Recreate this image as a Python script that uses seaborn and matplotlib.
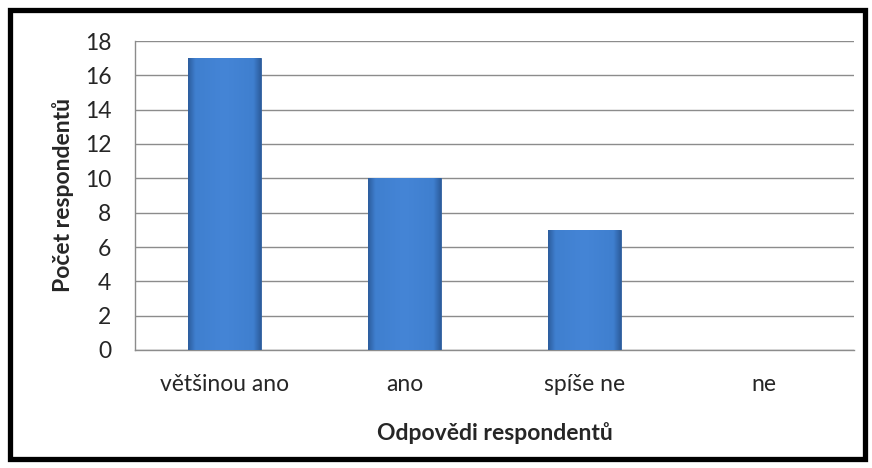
import numpy as np
import pandas as pd
import matplotlib
matplotlib.use("Agg")
import matplotlib.pyplot as plt
import seaborn as sns
from matplotlib.patches import Rectangle
from matplotlib.colors import LinearSegmentedColormap

# data
categories = ["většinou ano", "ano", "spíše ne", "ne"]
counts = [17, 10, 7, 0]
y_ticks = [0, 2, 4, 6, 8, 10, 12, 14, 16, 18]

df = pd.DataFrame({"odpoved": categories, "pocet": counts})

sns.set_style("white")
plt.rcParams["font.family"] = ["Lato", "DejaVu Sans"]

fig = plt.figure(figsize=(8.72, 4.68), dpi=100)
ax = fig.add_axes([135 / 872, 1 - 350 / 468, 719 / 872, 309 / 468])

sns.barplot(data=df, x="odpoved", y="pocet", color="#3F7FCF", width=0.405,
            edgecolor="#2D5E9E", linewidth=0.6, ax=ax, zorder=3)

# gradient fill on each bar (darker edges, flat lighter middle)
cmap = LinearSegmentedColormap.from_list(
    "bar", [(0, "#2C5C9C"), (0.1, "#3F7FCF"), (0.5, "#4585D6"), (0.9, "#3F7FCF"), (1, "#2C5C9C")])
grad = np.linspace(0, 1, 256).reshape(1, -1)
for p in ax.patches:
    h = p.get_height()
    if h <= 0:
        continue
    x0 = p.get_x()
    w = p.get_width()
    im = ax.imshow(grad, cmap=cmap, aspect="auto", zorder=4,
                   extent=[x0, x0 + w, 0, h], interpolation="bicubic")
    im.set_clip_path(p)

ax.set_xlim(-0.5, len(categories) - 0.5)
ax.set_ylim(0, 18)
ax.set_yticks(y_ticks)
ax.yaxis.grid(True, color="#8C8C8C", linewidth=1)
ax.set_axisbelow(True)

# x ticks at category boundaries
ax.set_xticks(np.arange(len(categories)))
ax.set_xticks(np.arange(-0.5, len(categories)), minor=True)
ax.tick_params(axis="x", which="major", length=0, pad=17, labelsize=16.5)
ax.tick_params(axis="x", which="minor", length=6, color="#8C8C8C", width=1)
ax.tick_params(axis="y", length=6, color="#8C8C8C", width=1, labelsize=16.5, pad=11)
ax.set_xticklabels(categories)

for s in ["top", "right"]:
    ax.spines[s].set_visible(False)
for s in ["left", "bottom"]:
    ax.spines[s].set_color("#8C8C8C")
    ax.spines[s].set_linewidth(1)

ax.set_xlabel("Odpovědi respondentů", fontsize=16.5, fontweight="bold", labelpad=20)
ax.set_ylabel("Počet respondentů", fontsize=16.5, fontweight="bold", labelpad=8)

# black frame around the whole chart
fig.patches.append(Rectangle((9.5 / 872, 9.5 / 468), 855 / 872, 449 / 468,
                             transform=fig.transFigure, fill=False,
                             edgecolor="black", linewidth=3.8))

fig.savefig("out.png", dpi=100)
